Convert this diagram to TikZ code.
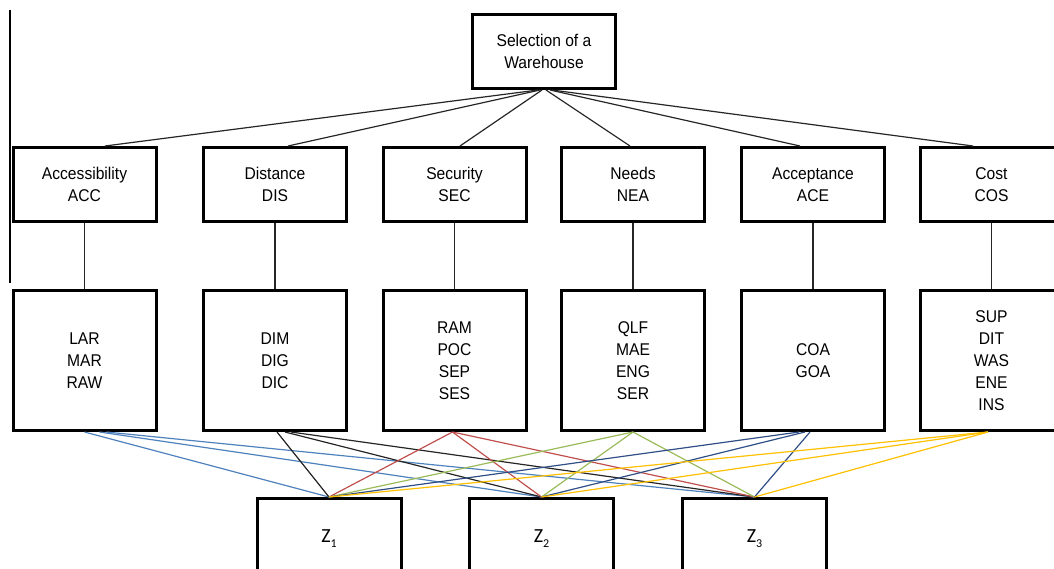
\documentclass[tikz,border=0pt]{standalone}
\usepackage{fontspec}
\setmainfont[FakeStretch=0.92]{Liberation Sans}
\newfontfamily\zfont{Carlito}
\usetikzlibrary{calc}

\definecolor{accblue}{HTML}{4F81BD}
\definecolor{secred}{HTML}{C0504D}
\definecolor{neagreen}{HTML}{9BBB59}
\definecolor{acenavy}{HTML}{2F4F86}
\definecolor{cosgold}{HTML}{FFC000}

\newcommand{\zlabel}[1]{{\zfont\fontsize{20}{22}\selectfont Z\raisebox{-0.25em}{\fontsize{12}{12}\selectfont #1}}}

\begin{document}
\begin{tikzpicture}[x=1pt,y=-1pt,
  box/.style={draw, line width=3pt, minimum width=143pt, align=center,
              inner sep=0pt, font=\fontsize{17}{22}\selectfont},
  goalbox/.style={box, minimum height=74pt},
  critbox/.style={box, minimum height=74pt},
  subbox/.style={box, minimum height=140pt},
  altbox/.style={box, minimum width=144pt, minimum height=80pt},
  link/.style={line width=1.2pt, black!85},
  tie/.style={line width=1.2pt}]
\useasboundingbox (0,0) rectangle (1054,568);

% margin rule on the left
\draw[line width=1.2pt] (10,10) -- (10,283);

% goal
\node[goalbox] (goal) at (544,51.5) {Selection of a\\Warehouse};

% criteria
\node[critbox] (acc) at (84.5,184.5) {Accessibility\\ACC};
\node[critbox] (dis) at (275,184.5)  {Distance\\DIS};
\node[critbox] (sec) at (454.5,184.5){Security\\SEC};
\node[critbox] (nea) at (633,184.5)  {Needs\\NEA};
\node[critbox] (ace) at (813,184.5)  {Acceptance\\ACE};
\node[critbox] (cos) at (991.5,184.5){Cost\\COS};

% sub-criteria
\node[subbox] (sacc) at (84.5,360.5) {LAR\\MAR\\RAW};
\node[subbox] (sdis) at (275,360.5)  {DIM\\DIG\\DIC};
\node[subbox] (ssec) at (454.5,360.5){RAM\\POC\\SEP\\SES};
\node[subbox] (snea) at (633,360.5)  {QLF\\MAE\\ENG\\SER};
\node[subbox] (sace) at (813,360.5)  {COA\\GOA};
\node[subbox] (scos) at (991.5,360.5){SUP\\DIT\\WAS\\ENE\\INS};

% alternatives
\node[altbox] (z1) at (329,538.5)   {\zlabel{1}};
\node[altbox] (z2) at (541.5,538.5) {\zlabel{2}};
\node[altbox] (z3) at (754.5,538.5) {\zlabel{3}};

% goal to criteria
\draw[link] ($(goal.south)+(-6,0)$) -- ($(acc.north)+(20.5,0)$);
\draw[link] ($(goal.south)+(-4,0)$) -- ($(dis.north)+(13,0)$);
\draw[link] ($(goal.south)+(-2,0)$) -- ($(sec.north)+(5.5,0)$);
\draw[link] ($(goal.south)+(2,0)$)  -- ($(nea.north)+(-3,0)$);
\draw[link] ($(goal.south)+(6,0)$)  -- ($(ace.north)+(-13,0)$);
\draw[link] ($(goal.south)+(8,0)$)  -- ($(cos.north)+(-18.5,0)$);

% criteria to sub-criteria
\foreach \c in {acc,dis,sec,nea,ace,cos}
  \draw[link] (\c.south) -- (s\c.north);

% sub-criteria to alternatives
\draw[tie, accblue] (sacc.south) -- (z1.north);
\draw[tie, accblue] ($(sacc.south)+(15,0)$) -- (z2.north);
\draw[tie, accblue] ($(sacc.south)+(22,0)$) -- (z3.north);

\draw[tie, black!85] ($(sdis.south)+(2,0)$)  -- (z1.north);
\draw[tie, black!85] ($(sdis.south)+(10,0)$) -- (z2.north);
\draw[tie, black!85] ($(sdis.south)+(16,0)$) -- (z3.north);

\foreach \z in {z1,z2,z3}
  \draw[tie, secred] ($(ssec.south)+(-2,0)$) -- (\z.north);

\foreach \z in {z1,z2,z3}
  \draw[tie, neagreen] (snea.south) -- (\z.north);

\draw[tie, acenavy] ($(sace.south)+(-14,0)$) -- (z1.north);
\draw[tie, acenavy] ($(sace.south)+(-8,0)$)  -- (z2.north);
\draw[tie, acenavy] ($(sace.south)+(-3,0)$)  -- (z3.north);

\foreach \z in {z1,z2,z3}
  \draw[tie, cosgold] ($(scos.south)+(-3.5,0)$) -- (\z.north);
\end{tikzpicture}
\end{document}
